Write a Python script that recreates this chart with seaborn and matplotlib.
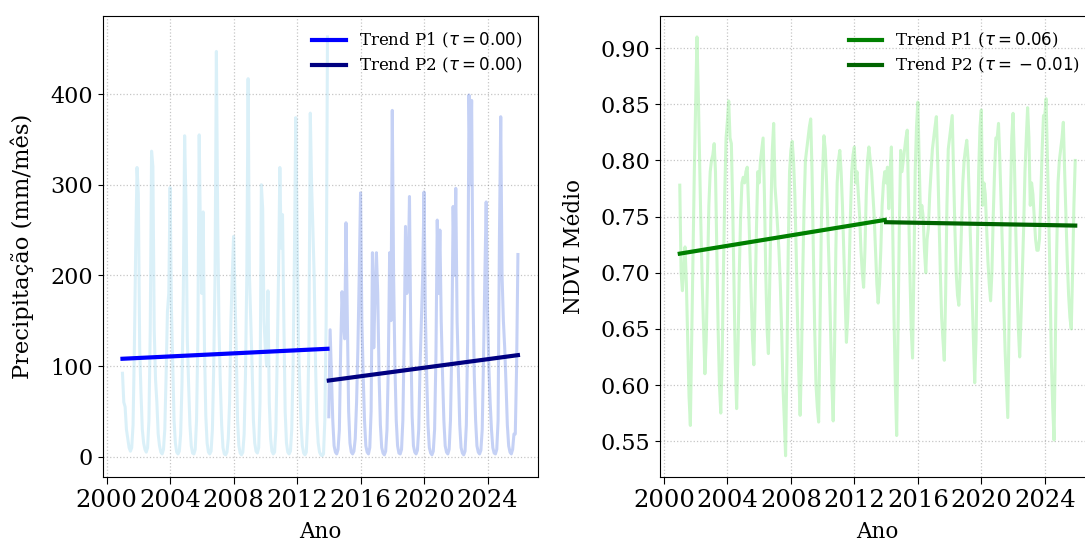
import numpy as np
import pandas as pd
import matplotlib
matplotlib.use("Agg")
import matplotlib.pyplot as plt
from matplotlib.ticker import MultipleLocator, FormatStrFormatter
import seaborn as sns

# ---------------- data ----------------
start_year_p1 = 2001
start_year_p2 = 2014

# monthly precipitation (mm/month), period 1: 2001-01 .. 2013-12
precip_p1 = [
    92, 60, 55, 30, 20, 10, 6, 10, 35, 120, 230, 319,      # 2001
    290, 120, 70, 30, 15, 8, 5, 10, 40, 140, 337, 320,     # 2002
    140, 85, 60, 25, 12, 5, 3, 8, 30, 90, 160, 180,        # 2003
    297, 165, 100, 40, 15, 5, 3, 6, 25, 80, 180, 354,      # 2004
    280, 130, 80, 35, 12, 4, 3, 8, 40, 130, 355, 240,      # 2005
    180, 270, 120, 45, 15, 5, 3, 6, 30, 100, 200, 447,     # 2006
    260, 140, 80, 35, 10, 3, 2, 5, 20, 60, 150, 200,       # 2007
    243, 180, 120, 40, 12, 4, 2, 5, 25, 90, 200, 417,      # 2008
    200, 150, 100, 40, 15, 6, 4, 10, 60, 300, 274, 150,    # 2009
    120, 100, 183, 60, 20, 6, 3, 5, 30, 110, 200, 319,     # 2010
    230, 267, 150, 50, 15, 5, 3, 6, 30, 100, 220, 374,     # 2011
    250, 130, 80, 35, 12, 4, 2, 5, 40, 130, 379, 300,      # 2012
    250, 195, 100, 40, 15, 5, 2, 1, 3, 40, 150, 463,       # 2013
]

# monthly precipitation (mm/month), period 2: 2014-01 .. 2025-12
precip_p2 = [
    44, 140, 90, 40, 12, 5, 3, 8, 30, 120, 182, 150,       # 2014
    130, 258, 150, 50, 15, 5, 3, 6, 20, 60, 120, 200,      # 2015
    291, 150, 90, 40, 12, 5, 3, 10, 50, 225, 120, 180,     # 2016
    225, 180, 90, 35, 10, 4, 2, 6, 30, 100, 225, 150,      # 2017
    382, 200, 100, 40, 12, 4, 3, 8, 40, 130, 254, 180,     # 2018
    200, 287, 130, 45, 12, 5, 3, 7, 30, 100, 150, 200,     # 2019
    292, 160, 90, 35, 10, 4, 2, 6, 30, 110, 261, 180,      # 2020
    250, 150, 90, 40, 12, 5, 3, 8, 40, 120, 276, 200,      # 2021
    296, 150, 90, 35, 10, 4, 2, 6, 35, 130, 399, 300,      # 2022
    393, 180, 90, 40, 12, 5, 3, 7, 30, 110, 200, 281,      # 2023
    160, 100, 60, 30, 10, 4, 3, 8, 40, 240, 375, 200,      # 2024
    150, 120, 80, 35, 12, 5, 3, 8, 25, 25, 100, 223,       # 2025
]

# monthly mean NDVI, 2001-01 .. 2025-12
ndvi = [
    0.778, 0.700, 0.684, 0.705, 0.723, 0.690, 0.640, 0.590, 0.564, 0.640, 0.720, 0.790,  # 2001
    0.850, 0.910, 0.860, 0.800, 0.740, 0.690, 0.650, 0.610, 0.640, 0.700, 0.760, 0.790,  # 2002
    0.800, 0.805, 0.815, 0.790, 0.720, 0.650, 0.600, 0.575, 0.620, 0.700, 0.770, 0.820,  # 2003
    0.835, 0.853, 0.820, 0.815, 0.760, 0.690, 0.620, 0.579, 0.630, 0.700, 0.750, 0.780,  # 2004
    0.785, 0.780, 0.790, 0.794, 0.760, 0.720, 0.680, 0.640, 0.618, 0.680, 0.740, 0.790,  # 2005
    0.780, 0.800, 0.810, 0.820, 0.770, 0.700, 0.650, 0.628, 0.690, 0.760, 0.810, 0.833,  # 2006
    0.777, 0.760, 0.740, 0.720, 0.690, 0.650, 0.600, 0.570, 0.537, 0.620, 0.720, 0.790,  # 2007
    0.809, 0.817, 0.800, 0.770, 0.720, 0.660, 0.610, 0.573, 0.620, 0.700, 0.760, 0.800,  # 2008
    0.810, 0.820, 0.830, 0.837, 0.790, 0.720, 0.650, 0.600, 0.580, 0.567, 0.650, 0.740,  # 2009
    0.790, 0.822, 0.810, 0.780, 0.740, 0.700, 0.650, 0.600, 0.568, 0.630, 0.720, 0.780,  # 2010
    0.800, 0.809, 0.790, 0.760, 0.720, 0.680, 0.638, 0.660, 0.700, 0.750, 0.790, 0.805,  # 2011
    0.812, 0.780, 0.790, 0.770, 0.750, 0.720, 0.700, 0.687, 0.720, 0.770, 0.800, 0.812,  # 2012
    0.800, 0.790, 0.770, 0.750, 0.720, 0.690, 0.673, 0.690, 0.720, 0.760, 0.780, 0.790,  # 2013
    0.780, 0.794, 0.757, 0.790, 0.812, 0.740, 0.660, 0.600, 0.555, 0.650, 0.740, 0.809,  # 2014
    0.790, 0.800, 0.810, 0.820, 0.827, 0.760, 0.700, 0.650, 0.624, 0.700, 0.790, 0.830,  # 2015
    0.852, 0.800, 0.749, 0.760, 0.750, 0.720, 0.700, 0.730, 0.740, 0.770, 0.790, 0.810,  # 2016
    0.820, 0.830, 0.839, 0.800, 0.750, 0.700, 0.660, 0.640, 0.622, 0.680, 0.760, 0.810,  # 2017
    0.820, 0.830, 0.840, 0.790, 0.740, 0.700, 0.680, 0.671, 0.700, 0.740, 0.780, 0.800,  # 2018
    0.810, 0.818, 0.800, 0.760, 0.720, 0.680, 0.640, 0.602, 0.640, 0.720, 0.790, 0.830,  # 2019
    0.845, 0.760, 0.780, 0.770, 0.740, 0.710, 0.690, 0.675, 0.700, 0.750, 0.790, 0.820,  # 2020
    0.820, 0.833, 0.800, 0.760, 0.720, 0.670, 0.630, 0.600, 0.571, 0.660, 0.760, 0.820,  # 2021
    0.842, 0.800, 0.740, 0.690, 0.650, 0.625, 0.660, 0.700, 0.740, 0.790, 0.820, 0.847,  # 2022
    0.820, 0.760, 0.780, 0.770, 0.750, 0.730, 0.720, 0.720, 0.730, 0.770, 0.810, 0.840,  # 2023
    0.840, 0.855, 0.800, 0.750, 0.690, 0.620, 0.580, 0.551, 0.640, 0.720, 0.780, 0.800,  # 2024
    0.810, 0.820, 0.834, 0.790, 0.750, 0.710, 0.680, 0.660, 0.650, 0.700, 0.760, 0.800,  # 2025
]

# Sen-slope trend lines (value at start and end of each period)
precip_trend_p1 = [108, 119]
precip_trend_p2 = [84, 112]
ndvi_trend_p1 = [0.717, 0.747]
ndvi_trend_p2 = [0.745, 0.742]

precip_tau = [0.00, 0.00]
ndvi_tau = [0.06, -0.01]


def tau_label(period, tau):
    # binary-operator spacing around the minus sign, as in the reference
    if tau < 0:
        return rf"Trend {period} ($\tau =\:-\:{abs(tau):.2f}$)"
    return rf"Trend {period} ($\tau = {tau:.2f}$)"


# ---------------- derived axes values ----------------
t_p1 = start_year_p1 + np.arange(len(precip_p1)) / 12.0
t_p2 = start_year_p2 + np.arange(len(precip_p2)) / 12.0
t_all = start_year_p1 + np.arange(len(ndvi)) / 12.0

# ---------------- style ----------------
plt.rcParams["font.family"] = ["DejaVu Serif"]
plt.rcParams["mathtext.fontset"] = "dejavusans"

fig = plt.figure(figsize=(10.85, 5.43), dpi=100)
W, H = 1085.0, 543.0
ax1 = fig.add_axes([102.7 / W, 1 - 476.7 / H, 435.0 / W, 460.7 / H])
ax2 = fig.add_axes([660.0 / W, 1 - 476.7 / H, 435.0 / W, 460.7 / H])

# ---- left panel: precipitation ----
sns.lineplot(x=t_p1, y=precip_p1, ax=ax1, color="skyblue", alpha=0.3, lw=2.2)
sns.lineplot(x=t_p2, y=precip_p2, ax=ax1, color="royalblue", alpha=0.3, lw=2.2)
sns.lineplot(x=[t_p1[0], t_p1[-1]], y=precip_trend_p1, ax=ax1, color="blue", lw=3,
             label=tau_label("P1", precip_tau[0]))
sns.lineplot(x=[t_p2[0], t_p2[-1]], y=precip_trend_p2, ax=ax1, color="navy", lw=3,
             label=tau_label("P2", precip_tau[1]))
ax1.set_ylabel("Precipitação (mm/mês)", fontsize=16.3, labelpad=12)
ax1.set_xlabel("Ano", fontsize=15.5, labelpad=7)

# ---- right panel: NDVI ----
sns.lineplot(x=t_all, y=ndvi, ax=ax2, color="lightgreen", alpha=0.45, lw=2.2)
n1 = len(precip_p1)
sns.lineplot(x=[t_all[0], t_all[n1 - 1]], y=ndvi_trend_p1, ax=ax2, color="green", lw=3,
             label=tau_label("P1", ndvi_tau[0]))
sns.lineplot(x=[t_all[n1], t_all[-1]], y=ndvi_trend_p2, ax=ax2, color="darkgreen", lw=3,
             label=tau_label("P2", ndvi_tau[1]))
ax2.set_ylabel("NDVI Médio", fontsize=15.5, labelpad=11)
ax2.set_xlabel("Ano", fontsize=15.5, labelpad=7)
ax2.yaxis.set_major_formatter(FormatStrFormatter("%.2f"))

for ax in (ax1, ax2):
    ax.xaxis.set_major_locator(MultipleLocator(4))
    ax.xaxis.set_major_formatter(FormatStrFormatter("%d"))
    ax.tick_params(axis="y", labelsize=16)
    ax.tick_params(axis="x", labelsize=17.5, length=5)
    ax.grid(True, linestyle=":", color="gray", alpha=0.45, lw=0.9)
    ax.legend(loc="upper right", frameon=False, fontsize=12, labelspacing=0.35)
    ax.margins(x=0.05, y=0.05)

fig.savefig("out.png", dpi=100)
